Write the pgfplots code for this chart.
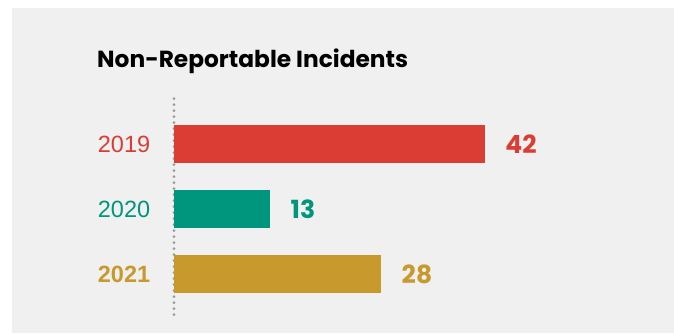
\documentclass[border=0pt]{standalone}
\usepackage{pgfplots}
\pgfplotsset{compat=1.18}
\usepackage{fontspec}
\setmainfont{Liberation Sans}
\newfontfamily\pop{Poppins}
\definecolor{bg}{HTML}{F0F0F0}
\definecolor{cA}{HTML}{DB3D34}
\definecolor{cB}{HTML}{00957D}
\definecolor{cC}{HTML}{C8992C}
\definecolor{dotc}{HTML}{999999}
\begin{document}
\begin{tikzpicture}[x=1pt,y=1pt]
\useasboundingbox (0,0) rectangle (674,333);
\fill[white] (0,0) rectangle (674,333);
\fill[bg] (12,0) rectangle (674,325);
\node[anchor=base west, inner sep=0, font=\pop\bfseries\fontsize{23.3}{23.3}\selectfont] at (97,265.3) {Non-Reportable Incidents};
\begin{axis}[
  at={(174pt,13.5pt)}, anchor=south west,
  scale only axis, width=444pt, height=221pt,
  xbar, bar width=37.7pt,
  xmin=0, xmax=60, ymin=-0.7, ymax=2.7, y dir=reverse,
  axis x line=none, axis y line*=left,
  y axis line style={dotc, line width=3pt, dash pattern=on 0pt off 6pt, line cap=round},
  ytick={0,1,2}, ytick style={draw=none},
  yticklabels={\textcolor{cA}{2019},\textcolor{cB}{2020},\textbf{\textcolor{cC}{2021}}},
  yticklabel style={font=\fontsize{23.5}{23.5}\selectfont, anchor=east, xshift=-16pt},
  /pgf/number format/assume math mode=true,
  clip=false,
  nodes near coords, nodes near coords align={horizontal},
]
\addplot[fill=cA, draw=none, bar shift=0pt, nodes near coords style={text=cA, font=\pop\bfseries\fontsize{25}{25}\selectfont, xshift=17pt}] coordinates {(42,0)};
\addplot[fill=cB, draw=none, bar shift=0pt, nodes near coords style={text=cB, font=\pop\bfseries\fontsize{25}{25}\selectfont, xshift=17pt}] coordinates {(13,1)};
\addplot[fill=cC, draw=none, bar shift=0pt, nodes near coords style={text=cC, font=\pop\bfseries\fontsize{25}{25}\selectfont, xshift=17pt}] coordinates {(28,2)};
\end{axis}
\end{tikzpicture}
\end{document}
